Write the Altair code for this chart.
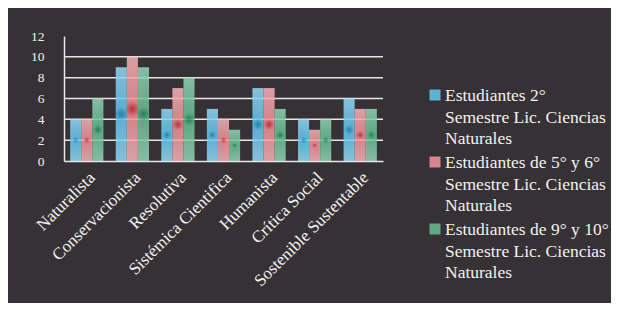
import altair as alt
import pandas as pd

categories = ["Naturalista", "Conservacionista", "Resolutiva", "Sistémica Cientifica",
              "Humanista", "Crítica Social", "Sostenible Sustentable"]
series = ["Estudiantes 2°|Semestre Lic. Ciencias|Naturales",
          "Estudiantes  de 5° y 6°|Semestre Lic. Ciencias|Naturales",
          "Estudiantes  de 9° y 10°|Semestre Lic. Ciencias|Naturales"]
s1 = [4, 9, 5, 5, 7, 4, 6]
s2 = [4, 10, 7, 4, 7, 3, 5]
s3 = [6, 9, 8, 3, 5, 4, 5]
y_ticks = [0, 2, 4, 6, 8, 10, 12]
grid_values = [2, 4, 6, 8, 10]

colors = ["#5db3d5", "#d6868c", "#5fa985"]
grads = [
    ("#1a8fc8", "#66c6ee", "#b0e6fa"),
    ("#d2303c", "#f0929a", "#f8c8cc"),
    ("#189058", "#68bf96", "#b0e2ca"),
]

rows = []
for s, vals in zip(series, [s1, s2, s3]):
    for c, v in zip(categories, vals):
        rows.append({"cat": c, "series": s, "value": v})
df = pd.DataFrame(rows)
grid_df = pd.DataFrame({"g": grid_values})
leg_df = pd.DataFrame({"series": series, "idx": list(range(len(series)))})

FONT = "Liberation Serif, Times New Roman, serif"
TXT = "#f2f2f2"

x_enc = alt.X("cat:N", sort=categories, title=None,
              scale=alt.Scale(paddingInner=0.27, paddingOuter=0.135),
              axis=alt.Axis(labelAngle=-45, labelFont=FONT, labelFontSize=17,
                            labelColor=TXT, ticks=False, domainColor="#e8e8e8",
                            domainWidth=1.5, labelPadding=8, labelLimit=300,
                            labelOverlap=False))
y_scale = alt.Scale(domain=[0, 12], nice=False)
y_axis = alt.Axis(values=y_ticks, grid=False, ticks=False,
                  labelFont=FONT, labelFontSize=13.5, labelColor=TXT,
                  labelPadding=20, domainColor="#e8e8e8", domainWidth=1.5,
                  labelOverlap=False)
y_enc = alt.Y("value:Q", title=None, scale=y_scale, axis=y_axis)
xo_enc = alt.XOffset("series:N", sort=series,
                     scale=alt.Scale(domain=series, paddingInner=0, paddingOuter=0))
color_scale = alt.Scale(domain=series, range=colors)

grid = alt.Chart(grid_df).mark_rule(color="#e6e6e6", strokeWidth=1.5).encode(
    y=alt.Y("g:Q", title=None, scale=y_scale, axis=y_axis)
)

layers = [grid]
for s, (dark, mid, light) in zip(series, grads):
    g = alt.Gradient(
        gradient="radial", x1=0.5, y1=0.5, r1=0, x2=0.5, y2=0.5, r2=0.75,
        stops=[alt.GradientStop(offset=0, color=dark),
               alt.GradientStop(offset=0.1, color=mid),
               alt.GradientStop(offset=1, color=light)])
    layers.append(
        alt.Chart(df).transform_filter(alt.datum.series == s)
        .mark_bar(fill=g, fillOpacity=0.85).encode(x=x_enc, y=y_enc, xOffset=xo_enc)
    )

# legend (manual, to reproduce the multi-line layout)
leg_sym = alt.Chart(leg_df).transform_calculate(py="59 + datum.idx * 67").mark_square(
    size=121, opacity=1).encode(
    x=alt.value(371),
    y=alt.Y("py:Q", scale=None, axis=None),
    color=alt.Color("series:N", scale=color_scale, legend=None),
)
leg_txt = alt.Chart(leg_df).transform_calculate(py="65 + datum.idx * 67").mark_text(
    align="left", baseline="alphabetic", font=FONT, fontSize=17.5, color=TXT,
    lineBreak="|", lineHeight=21.5).encode(
    x=alt.value(381),
    y=alt.Y("py:Q", scale=None, axis=None),
    text="series:N",
)

chart = alt.layer(*layers, leg_sym, leg_txt).properties(
    width=319, height=125,
    background="#363134",
    padding={"left": 56, "top": 28, "right": 228, "bottom": 142},
    autosize=alt.AutoSizeParams(type="none"),
).configure_view(strokeWidth=0)

chart.save("out.html", embed_options={"renderer": "svg", "actions": False})
